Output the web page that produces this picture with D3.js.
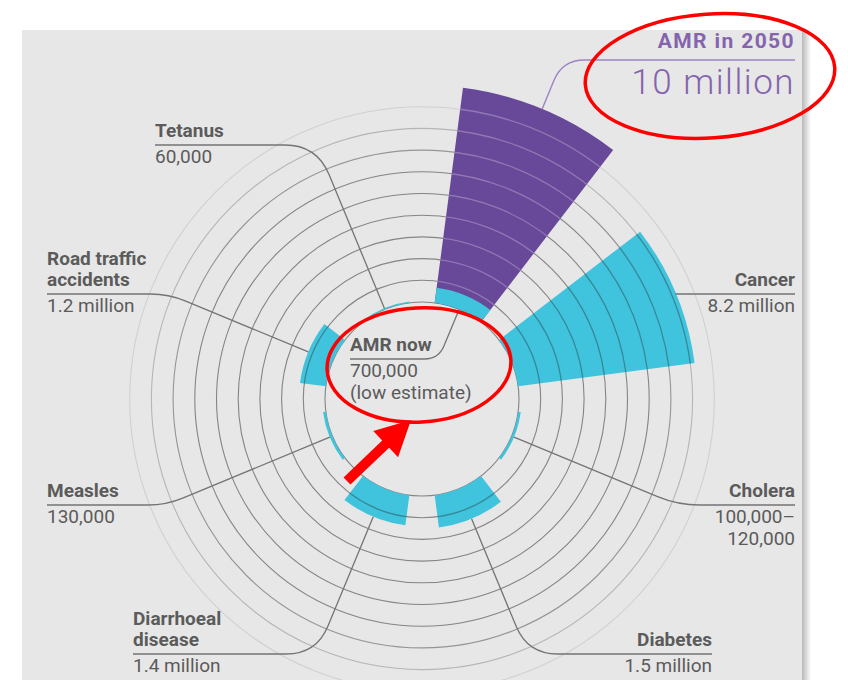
<!DOCTYPE html>
<html>
<head>
<meta charset="utf-8">
<script src="https://cdn.jsdelivr.net/npm/d3@7/dist/d3.min.js"></script>
<style>
  body { margin: 0; background: #fff; }
  svg { display: block; font-family: Roboto, "Noto Sans", sans-serif; }
</style>
</head>
<body>
<div id="chart"></div>
<script>
// deaths a year, clockwise from the top of the circle
var causes = ["AMR now", "Cancer", "Cholera", "Diabetes", "Diarrhoeal disease", "Measles", "Road traffic accidents", "Tetanus"];
var deaths = [0.7, 8.2, 0.12, 1.5, 1.4, 0.13, 1.2, 0.06]; // millions
var amr2050 = 10; // millions
var nameLines = [["AMR now"], ["Cancer"], ["Cholera"], ["Diabetes"], ["Diarrhoeal", "disease"], ["Measles"], ["Road traffic", "accidents"], ["Tetanus"]];
var valueLines = [["700,000", "(low estimate)"], ["8.2 million"], ["100,000–", "120,000"], ["1.5 million"], ["1.4 million"], ["130,000"], ["1.2 million"], ["60,000"]];
var ringTicks = d3.range(0, 10); // one ring per million

var W = 848, H = 680;
var cx = 422, cy = 399, r0 = 97;

// where each label sits (underline y, text edge x)
var labelPos = [
  {x: 350, y: 359, anchor: "start", inward: true, rad: 14},
  {x: 795, y: 294, anchor: "end", rad: 0},
  {x: 795, y: 505, anchor: "end", rad: 22},
  {x: 712, y: 654, anchor: "end", rad: 30},
  {x: 133, y: 654, anchor: "start", rad: 30},
  {x: 47, y: 505, anchor: "start", rad: 18},
  {x: 47, y: 294, anchor: "start", rad: 18},
  {x: 155, y: 145, anchor: "start", rad: 32}
];
var label2050 = {x: 795, y: 60, rad: 22};

var textCol = "#5b5b5b", lineCol = "#747474";
var cyan = "#40c3dc", purple = "#674899", purpleText = "#8564ae";

var svg = d3.select("#chart").append("svg")
  .attr("width", W).attr("height", H);

var defs = svg.append("defs");
var grad = defs.append("linearGradient").attr("id", "shadow");
grad.append("stop").attr("offset", "0%").attr("stop-color", "#000").attr("stop-opacity", 0.28);
grad.append("stop").attr("offset", "100%").attr("stop-color", "#000").attr("stop-opacity", 0);

// panel
svg.append("rect").attr("x", 802).attr("y", 30).attr("width", 9).attr("height", H - 30)
  .attr("fill", "url(#shadow)");
svg.append("rect").attr("x", 22).attr("y", 30).attr("width", 780).attr("height", H - 30)
  .attr("fill", "#e7e7e7");

var angle = d3.scaleBand().domain(causes).range([0, 2 * Math.PI])
  .paddingInner(1 / 3).paddingOuter(1 / 6);
var r = d3.scaleLinear().domain([0, 10]).range([r0, r0 + 217]);

var g = svg.append("g").attr("transform", "translate(" + cx + "," + cy + ")");

function ringStyle(k) {
  return k <= 6 ? 0.9 : k == 7 ? 0.75 : k == 8 ? 0.45 : 0.2;
}

// rings under the bars
g.selectAll("circle.ring").data(ringTicks).enter().append("circle")
  .attr("class", "ring")
  .attr("r", function(d) { return r(d); })
  .attr("fill", "none")
  .attr("stroke", "#7a7a7a")
  .attr("stroke-width", 1.1)
  .attr("stroke-opacity", ringStyle);

var arc = d3.arc();
function barArc(i, v0, v1) {
  return arc({
    innerRadius: r(v0), outerRadius: r(v1),
    startAngle: angle(causes[i]), endAngle: angle(causes[i]) + angle.bandwidth()
  });
}

var bars = [{i: 0, v0: 0, v1: amr2050, fill: purple, over: "rgba(255,255,255,0.26)"}];
deaths.forEach(function(v, i) {
  bars.push({i: i, v0: 0, v1: v, fill: cyan, over: "rgba(40,40,40,0.38)"});
});

bars.forEach(function(b, j) {
  var d = barArc(b.i, b.v0, b.v1);
  g.append("path").attr("d", d).attr("fill", b.fill);
  defs.append("clipPath").attr("id", "clip" + j).append("path").attr("d", d);
});

// rings showing through the bars
bars.forEach(function(b, j) {
  g.append("g").attr("clip-path", "url(#clip" + j + ")")
    .selectAll("circle").data(ringTicks.slice(1)).enter().append("circle")
    .attr("r", function(d) { return r(d); })
    .attr("fill", "none")
    .attr("stroke", b.over)
    .attr("stroke-width", 1.3);
});

function polar(a, rad) {
  return [cx + rad * Math.sin(a), cy - rad * Math.cos(a)];
}

function leader(a, rs, inward, Y, X, rad) {
  var p = polar(a, rs);
  var dx = Math.sin(a), dy = -Math.cos(a);
  if (inward) { dx = -dx; dy = -dy; }
  var t = (Y - p[1]) / dy;
  var c = [p[0] + dx * t, p[1] + dy * t];
  var h = X > c[0] ? 1 : -1;
  var rr = Math.max(0, Math.min(rad, t * 0.6, Math.abs(X - c[0]) * 0.5));
  var path = d3.path();
  path.moveTo(p[0], p[1]);
  path.lineTo(c[0] - dx * rr, c[1] - dy * rr);
  path.quadraticCurveTo(c[0], c[1], c[0] + h * rr, c[1]);
  path.lineTo(X, Y);
  return path.toString();
}

var lab = svg.append("g");

causes.forEach(function(c, i) {
  var pos = labelPos[i];
  var mid = angle(c) + angle.bandwidth() / 2;
  var rs = pos.inward ? r(0) : r(deaths[i]);
  lab.append("path")
    .attr("d", leader(mid, rs, pos.inward, pos.y, pos.x, pos.rad))
    .attr("fill", "none").attr("stroke", lineCol).attr("stroke-width", 1.3);

  var n = nameLines[i].length;
  nameLines[i].forEach(function(t, k) {
    lab.append("text")
      .attr("x", pos.x).attr("y", pos.y - 8 - 21 * (n - 1 - k))
      .attr("text-anchor", pos.anchor)
      .attr("font-size", 19).attr("font-weight", 700)
      .attr("fill", textCol).text(t);
  });
  valueLines[i].forEach(function(t, k) {
    lab.append("text")
      .attr("x", pos.x).attr("y", pos.y + 18 + 21.5 * k)
      .attr("text-anchor", pos.anchor)
      .attr("font-size", 19).attr("fill", textCol).text(t);
  });
});

// AMR in 2050 label
var mid0 = angle(causes[0]) + angle.bandwidth() / 2;
lab.append("path")
  .attr("d", leader(mid0, r(amr2050), false, label2050.y, label2050.x, label2050.rad))
  .attr("fill", "none").attr("stroke", "#9c84c4").attr("stroke-width", 1.4);
lab.append("text").attr("x", label2050.x).attr("y", label2050.y - 12)
  .attr("text-anchor", "end").attr("font-size", 21).attr("font-weight", 700)
  .attr("letter-spacing", 1.4).attr("fill", purpleText).text("AMR in 2050");
lab.append("text").attr("x", label2050.x).attr("y", label2050.y + 34)
  .attr("text-anchor", "end").attr("font-size", 35).attr("font-weight", 300)
  .attr("letter-spacing", 1.5).attr("fill", purpleText).text(amr2050 + " million");

// red highlights
var red = "#ff0000";
var ann = svg.append("g");
ann.append("ellipse").attr("cx", 0).attr("cy", 0).attr("rx", 125).attr("ry", 62)
  .attr("transform", "translate(710,76) rotate(-4)")
  .attr("fill", "none").attr("stroke", red).attr("stroke-width", 3.5);
ann.append("ellipse").attr("cx", 0).attr("cy", 0).attr("rx", 92).attr("ry", 57)
  .attr("transform", "translate(419,365) rotate(-3)")
  .attr("fill", "none").attr("stroke", red).attr("stroke-width", 3.5);

var tail = [347, 481], tip = [411, 420];
var len = Math.hypot(tip[0] - tail[0], tip[1] - tail[1]);
var ux = (tip[0] - tail[0]) / len, uy = (tip[1] - tail[1]) / len;
var nx = -uy, ny = ux;
var sw = 5, hw = 18, hl = 35;
var bx = tip[0] - ux * hl, by = tip[1] - uy * hl;
var pts = [
  [tail[0] + nx * sw, tail[1] + ny * sw],
  [bx + nx * sw, by + ny * sw],
  [bx + nx * hw, by + ny * hw],
  tip,
  [bx - nx * hw, by - ny * hw],
  [bx - nx * sw, by - ny * sw],
  [tail[0] - nx * sw, tail[1] - ny * sw]
];
ann.append("polygon").attr("points", pts.map(function(p) { return p.join(","); }).join(" "))
  .attr("fill", red);
</script>
</body>
</html>
